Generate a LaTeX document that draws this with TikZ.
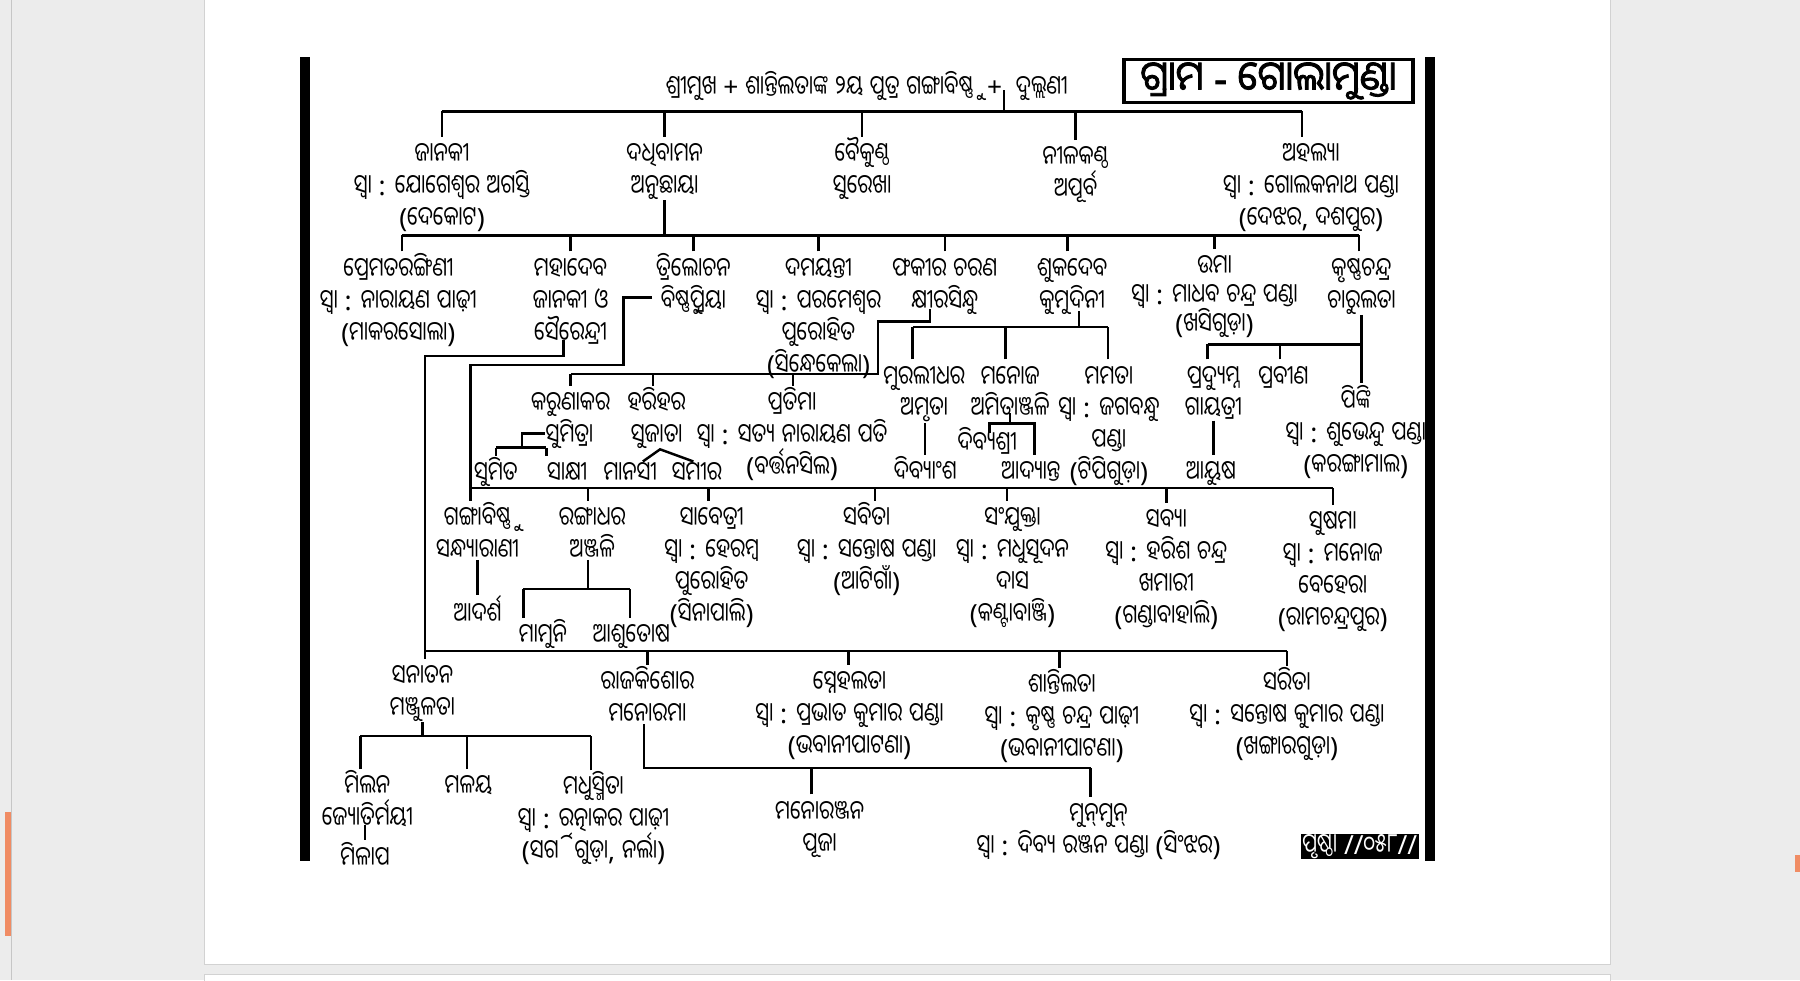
\documentclass[tikz,border=0pt]{standalone}
\usepackage{fontspec}
\setmainfont{Noto Sans}
\newfontfamily\latinR{Noto Sans}
\newfontfamily\latinB[FakeBold=2]{Noto Sans}
\newfontfamily\odiaR[Script=Oriya,FakeStretch=0.76]{Noto Sans Oriya UI}
\newfontfamily\odiaB[Script=Oriya,FakeBold=2,FakeStretch=0.93]{Noto Sans Oriya UI}
\usetikzlibrary{calc}
\definecolor{pagegray}{RGB}{236,236,236}
\definecolor{tabmark}{RGB}{240,140,100}

% Odia letters in the Odia font, the rest in Noto Sans
\newcommand\toodia{\odiaR}
\newcommand\tolatin{\latinR}
\XeTeXinterchartokenstate=1
\newXeTeXintercharclass\odiaclass
\newcount\odiachar
\odiachar="0B00
\loop
  \XeTeXcharclass\odiachar=\odiaclass
  \advance\odiachar by 1
\ifnum\odiachar<"0B80 \repeat
\XeTeXcharclass"200C=\odiaclass
\XeTeXcharclass"200D=\odiaclass
\XeTeXinterchartoks 0 \odiaclass={\toodia}
\XeTeXinterchartoks 4095 \odiaclass={\toodia}
\XeTeXinterchartoks \odiaclass 0={\tolatin}
\XeTeXinterchartoks \odiaclass 4095={\tolatin}

% text sizes
\newcommand\namesize{\fontsize{7.5}{9.1}\selectfont\lineskiplimit-10pt\relax}
\newcommand\tightsize{\fontsize{7.5}{8.2}\selectfont\lineskiplimit-10pt\relax}
\newcommand\hd{\rule{0pt}{7.4pt}}

\tikzset{
  person/.style={anchor=north, align=center, inner sep=0pt, font=\namesize},
  link/.style={line width=0.7pt},
  titlebox/.style={draw, line width=0.9pt, inner sep=0pt,
    minimum width=28.9mm, minimum height=4.25mm,
    font=\fontsize{11.5}{14}\selectfont\let\toodia\odiaB\let\tolatin\latinB},
  pagebox/.style={fill=black, text=white, inner sep=0pt,
    minimum width=11.8mm, minimum height=2.4mm, font=\fontsize{7.5}{8}\selectfont},
}

\begin{document}
\begin{tikzpicture}[x=0.1148mm, y=-0.1148mm]
  \useasboundingbox (0,0) rectangle (1568,854);
  % page
  \fill[pagegray] (0,0) rectangle (1568,854);
  \filldraw[fill=white, draw=gray!35] (178,-2) rectangle (1403,840);
  \filldraw[fill=white, draw=gray!35] (178,849) rectangle (1403,860);
  \draw[gray!45] (10,0) -- (10,854);
  \fill[tabmark] (4,707) rectangle (10,815);
  \fill[tabmark] (1564,745) rectangle (1568,760);

  % title and page number
  \node[titlebox] (gram) at (1105,70.5) {ଗ୍ରାମ - ଗୋଲାମୁଣ୍ଡା};
  \node[pagebox] (page) at (1184.5,737.5) {ପୃଷ୍ଠା //୦୫୮//};

  % couple
  \node[person] (root) at (755,61) {\hd ଶ୍ରୀମୁଖ + ଶାନ୍ତିଲତାଙ୍କ ୨ୟ ପୁତ୍ର ଗଙ୍ଗାବିଷ୍ଣୁ \ + \ ଦୁଲ୍ଲଣୀ};

  % first generation
  \node[person] (janaki) at (385,119) {\hd ଜାନକୀ\\ସ୍ୱା : ଯୋଗେଶ୍ୱର ଅଗସ୍ତି\\(ଦେକୋଟ)};
  \node[person] (dadhi) at (579,119) {\hd ଦଧିବାମନ\\ଅନୁଛାୟା};
  \node[person] (baiku) at (751,119) {\hd ବୈକୁଣ୍ଠ\\ସୁରେଖା};
  \node[person] (nila) at (937,122) {\hd ନୀଳକଣ୍ଠ\\ଅପୂର୍ବ};
  \node[person] (ahalya) at (1142,119) {\hd ଅହଲ୍ୟା\\ସ୍ୱା : ଗୋଲକନାଥ ପଣ୍ଡା\\(ଦେଝର, ଦଶପୁର)};

  % second generation
  \node[person] (prema) at (347,219) {\hd ପ୍ରେମତରଙ୍ଗିଣୀ\\ସ୍ୱା : ନାରାୟଣ ପାଢ଼ୀ\\(ମାକରସୋଲା)};
  \node[person] (mahadeva) at (497,219) {\hd ମହାଦେବ\\ଜାନକୀ ଓ\\ସୈରେନ୍ଦ୍ରୀ};
  \node[person] (trilo) at (604,219) {\hd ତ୍ରିଲୋଚନ\\ବିଷ୍ଣୁପ୍ରିୟା};
  \node[person] (damay) at (713,219) {\hd ଦମୟନ୍ତୀ\\ସ୍ୱା : ପରମେଶ୍ୱର\\ପୁରୋହିତ\\(ସିନ୍ଧେକେଲା)};
  \node[person] (fakir) at (823,219) {\hd ଫକୀର ଚରଣ\\କ୍ଷୀରସିନ୍ଧୁ};
  \node[person] (sukadeva) at (934,219) {\hd ଶୁକଦେବ\\କୁମୁଦିନୀ};
  \node[person, font=\tightsize] (uma) at (1058,217) {\hd ଉମା\\ସ୍ୱା : ମାଧବ ଚନ୍ଦ୍ର ପଣ୍ଡା\\(ଖସିଗୁଡ଼ା)};
  \node[person] (krushna) at (1186,219) {\hd କୃଷ୍ଣଚନ୍ଦ୍ର\\ଚାରୁଲତା};

  % children of fakir charan
  \node[person] (karuna) at (497,336) {\hd କରୁଣାକର};
  \node[person] (harihara) at (572,336) {\hd ହରିହର};
  \node[person] (pratima) at (690,336) {\hd ପ୍ରତିମା\\ସ୍ୱା : ସତ୍ୟ ନାରାୟଣ ପତି\\(ବର୍ତ୍ତନସିଲ)};
  \node[person] (sumitra) at (496,364) {\hd ସୁମିତ୍ରା};
  \node[person] (sujata) at (572,364) {\hd ସୁଜାତା};
  \node[person] (sumita) at (432,397) {\hd ସୁମିତ};
  \node[person] (sakshi) at (494,397) {\hd ସାକ୍ଷୀ};
  \node[person] (manasi) at (549,397) {\hd ମାନସୀ};
  \node[person] (samira) at (607,397) {\hd ସମୀର};

  % children of sukadeva
  \node[person] (murali) at (805,313) {\hd ମୁରଲୀଧର\\ଅମୃତା};
  \node[person] (manoja) at (880,313) {\hd ମନୋଜ\\ଅମିତାଞ୍ଜଳି};
  \node[person] (mamata) at (966,313) {\hd ମମତା\\ସ୍ୱା : ଜଗବନ୍ଧୁ\\ପଣ୍ଡା\\(ଟିପିଗୁଡ଼ା)};
  \node[person] (divyasri) at (860,371) {\hd ଦିବ୍ୟଶ୍ରୀ};
  \node[person] (divyamsa) at (806,396) {\hd ଦିବ୍ୟାଂଶ};
  \node[person] (adyanta) at (898,396) {\hd ଆଦ୍ୟାନ୍ତ};

  % children of krushnachandra
  \node[person] (pradyu) at (1057,313) {\hd ପ୍ରଦ୍ୟୁମ୍ନ\\ଗାୟତ୍ରୀ};
  \node[person] (prabina) at (1118,313) {\hd ପ୍ରବୀଣ};
  \node[person] (ayush) at (1055,396) {\hd ଆୟୁଷ};
  \node[person] (pinki) at (1181,334) {\hd ପିଙ୍କି\\ସ୍ୱା : ଶୁଭେନ୍ଦୁ ପଣ୍ଡା\\(କରଙ୍ଗାମାଲ)};

  % children of trilochana
  \node[person] (ganga) at (416,436) {\hd ଗଙ୍ଗାବିଷ୍ଣୁ\\ସନ୍ଧ୍ୟାରାଣୀ};
  \node[person] (adarsa) at (416,518) {\hd ଆଦର୍ଶ};
  \node[person] (ranga) at (516,436) {\hd ରଙ୍ଗାଧର\\ଅଞ୍ଜଳି};
  \node[person] (mamuni) at (473,538) {\hd ମାମୁନି};
  \node[person] (ashu) at (550,538) {\hd ଆଶୁତୋଷ};
  \node[person] (saba) at (620,436) {\hd ସାବେତ୍ରୀ\\ସ୍ୱା : ହେରମ୍ବ\\ପୁରୋହିତ\\(ସିନାପାଲି)};
  \node[person] (sabita) at (755,436) {\hd ସବିତା\\ସ୍ୱା : ସନ୍ତୋଷ ପଣ୍ଡା\\(ଆଟିଗାଁ)};
  \node[person] (samyukta) at (882,436) {\hd ସଂଯୁକ୍ତା\\ସ୍ୱା : ମଧୁସୂଦନ\\ଦାସ\\(କଣ୍ଟାବାଞ୍ଜି)};
  \node[person] (sabya) at (1016,438) {\hd ସବ୍ୟା\\ସ୍ୱା : ହରିଶ ଚନ୍ଦ୍ର\\ଖମାରୀ\\(ଗଣ୍ଡାବାହାଲି)};
  \node[person] (sushama) at (1161,440) {\hd ସୁଷମା\\ସ୍ୱା : ମନୋଜ\\ବେହେରା\\(ରାମଚନ୍ଦ୍ରପୁର)};

  % children of mahadeva
  \node[person] (sanatana) at (368,574) {\hd ସନାତନ\\ମଞ୍ଜୁଳତା};
  \node[person] (rajakisora) at (564,579) {\hd ରାଜକିଶୋର\\ମନୋରମା};
  \node[person] (sneha) at (740,579) {\hd ସ୍ନେହଲତା\\ସ୍ୱା : ପ୍ରଭାତ କୁମାର ପଣ୍ଡା\\(ଭବାନୀପାଟଣା)};
  \node[person] (santi) at (925,582) {\hd ଶାନ୍ତିଲତା\\ସ୍ୱା : କୃଷ୍ଣ ଚନ୍ଦ୍ର ପାଢ଼ୀ\\(ଭବାନୀପାଟଣା)};
  \node[person] (sarita) at (1121,580) {\hd ସରିତା\\ସ୍ୱା : ସନ୍ତୋଷ କୁମାର ପଣ୍ଡା\\(ଖଙ୍ଗାରଗୁଡ଼ା)};

  % grandchildren of mahadeva
  \node[person] (milana) at (320,670) {\hd ମିଲନ\\ଜ୍ୟୋତିର୍ମୟୀ};
  \node[person] (milapa) at (318,732) {\hd ମିଳାପ};
  \node[person] (malaya) at (408,670) {\hd ମଳୟ};
  \node[person] (madhu) at (517,671) {\hd ମଧୁସ୍ମିତା\\ସ୍ୱା : ରତ୍ନାକର ପାଢ଼ୀ\\(ସର୍ଗିଗୁଡ଼ା, ନର୍ଲା)};
  \node[person] (manoranjan) at (714,692) {\hd ମନୋରଞ୍ଜନ\\ପୂଜା};
  \node[person] (munmun) at (957,694) {\hd ମୁନ୍^^^^200cମୁନ୍\\ସ୍ୱା : ଦିବ୍ୟ ରଞ୍ଜନ ପଣ୍ଡା (ସିଂଝର)};

  % bus levels
  \coordinate (bus1) at (0,97);
  \coordinate (bus2) at (0,205);
  \coordinate (bus3a) at (0,326);
  \coordinate (bus3b) at (0,285);
  \coordinate (bus3c) at (0,300);
  \coordinate (bus3d) at (0,425);
  \coordinate (bus3e) at (0,567);
  \coordinate (bus4m) at (0,369);
  \coordinate (bus4k) at (0,390);
  \coordinate (bus4r) at (0,513);
  \coordinate (bus4a) at (0,641);
  \coordinate (bus4b) at (0,669);

  % couple to first generation
  \coordinate (couple) at ($(root.south east)+(-56,-10)$);
  \draw[link] (couple) -- (couple |- bus1);
  \foreach \n/\dx in {janaki/0, dadhi/0, baiku/0, nila/0, ahalya/-8}
    \draw[link] ($(\n.north)+(\dx,0)$) coordinate (\n-in) -- (\n-in |- bus1) coordinate (\n-up);
  \draw[link] (janaki-up) -- (ahalya-up);

  % dadhibamana to second generation
  \draw[link] (dadhi.south) -- (dadhi.south |- bus2);
  \foreach \n/\dx in {prema/3, mahadeva/0, trilo/0, damay/0, fakir/0, sukadeva/-4, uma/0, krushna/-2}
    \draw[link] ($(\n.north)+(\dx,0)$) coordinate (\n-in) -- (\n-in |- bus2) coordinate (\n-up);
  \draw[link] (prema-up) -- (krushna-up);

  % fakir charan
  \draw[link] ($(fakir.south)+(-13,-5)$) |- (765,280) |- (karuna.north |- bus3a);
  \foreach \n/\dx in {karuna/0, harihara/-3, pratima/1}
    \draw[link] ($(\n.north)+(\dx,0)$) coordinate (\n-in) -- (\n-in |- bus3a);
  \draw[link] (sumitra.west) -| ($(sumitra.west)+(-20,13)$);
  \foreach \n/\dx in {sumita/0, sakshi/-18}
    \draw[link] ($(\n.north)+(\dx,0)$) coordinate (\n-in) -- (\n-in |- bus4k) coordinate (\n-up);
  \draw[link] (sumita-up) -- (sakshi-up);
  \draw[link] ($(manasi.north)+(11,5)$) -- ($(sujata.south)+(3,0)$) -- ($(samira.north)+(-3,5)$);

  % sukadeva
  \draw[link] ($(sukadeva.south)+(6,-3)$) coordinate (sk) -- (sk |- bus3b);
  \foreach \n/\dx in {murali/-10, manoja/-4, mamata/-1}
    \draw[link] ($(\n.north)+(\dx,0)$) coordinate (\n-in) -- (\n-in |- bus3b) coordinate (\n-up);
  \draw[link] (murali-up) -- (mamata-up);
  \draw[link] (murali.south -| divyamsa.north) -- (divyamsa.north);
  \draw[link] ($(manoja.south)+(0,-5)$) -- (manoja.south |- bus4m);
  \draw[link] ($(divyasri.north)+(2,6)$) |- ($(adyanta.north |- bus4m)+(3,0)$) -- ($(adyanta.north)+(3,0)$);

  % krushnachandra
  \draw[link] (krushna.south) -- (krushna.south |- pinki.north);
  \foreach \n/\dx in {pradyu/-5, prabina/-3}
    \draw[link] ($(\n.north)+(\dx,0)$) coordinate (\n-in) -- (\n-in |- bus3c) coordinate (\n-up);
  \draw[link] (pradyu-up) -- (krushna.south |- bus3c);
  \draw[link] (pradyu.south) -- (pradyu.south |- ayush.north);

  % trilochana
  \path ($(ganga.north)+(-6,0)$) coordinate (ganga-in);
  \draw[link] ($(trilo.south west)+(-3,-15)$) -| (543,318) -| (ganga-in);
  \foreach \n/\dx in {ranga/-4, saba/-3, sabita/7, samyukta/-5, sabya/0, sushama/0}
    \draw[link] ($(\n.north)+(\dx,0)$) coordinate (\n-in) -- (\n-in |- bus3d) coordinate (\n-up);
  \draw[link] (ganga-in |- bus3d) -- (sushama-up);
  \draw[link] (ganga.south) -- (adarsa.north);
  \draw[link] ($(ranga.south)+(-4,0)$) coordinate (rg) -- (rg |- bus4r);
  \foreach \n/\dx in {mamuni/-17, ashu/-1}
    \draw[link] ($(\n.north)+(\dx,0)$) coordinate (\n-in) -- (\n-in |- bus4r) coordinate (\n-up);
  \draw[link] (mamuni-up) -- (ashu-up);

  % mahadeva
  \path ($(sanatana.north)+(2,0)$) coordinate (sanatana-in);
  \draw[link] ($(mahadeva.south)+(-6,-4)$) |- (sanatana-in |- 0,310) -- (sanatana-in);
  \foreach \n/\dx in {rajakisora/0, sneha/-1, santi/-2, sarita/0}
    \draw[link] ($(\n.north)+(\dx,0)$) coordinate (\n-in) -- (\n-in |- bus3e) coordinate (\n-up);
  \draw[link] (sanatana-in |- bus3e) -- (sarita-up);

  % sanatana
  \draw[link] (sanatana.south) -- (sanatana.south |- bus4a);
  \foreach \n/\dx in {milana/-6, malaya/-1, madhu/-2}
    \draw[link] ($(\n.north)+(\dx,0)$) coordinate (\n-in) -- (\n-in |- bus4a) coordinate (\n-up);
  \draw[link] (milana-up) -- (madhu-up);
  \draw[link] ($(milana.south -| milapa.north)+(0,-3)$) -- (milapa.north);

  % rajakisora
  \foreach \n/\dx in {manoranjan/-7, munmun/-7}
    \draw[link] ($(\n.north)+(\dx,0)$) coordinate (\n-in) -- (\n-in |- bus4b) coordinate (\n-up);
  \draw[link] ($(rajakisora.south)+(-3,0)$) |- (munmun-up);

  % side bars
  \fill (261,50) rectangle (270,750);
  \fill (1241,50) rectangle (1250,750);
\end{tikzpicture}
\end{document}
